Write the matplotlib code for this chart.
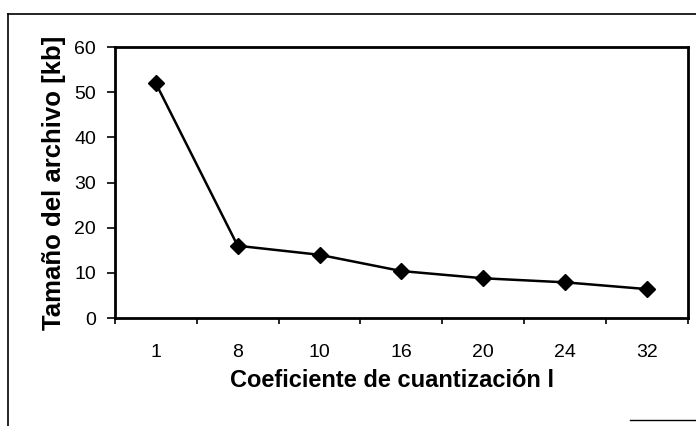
import matplotlib
matplotlib.use("Agg")
import matplotlib.pyplot as plt
from matplotlib.lines import Line2D

# data
coeficientes = ["1", "8", "10", "16", "20", "24", "32"]
tamano_kb = [52.0, 16.0, 14.0, 10.4, 8.8, 7.9, 6.4]

plt.rcParams['font.family'] = ['Liberation Sans', 'DejaVu Sans']

fig = plt.figure(figsize=(6.96, 4.26), dpi=100)
ax = fig.add_axes([0.165, 0.2535, 0.8235, 0.636])

x = list(range(len(coeficientes)))
ax.plot(x, tamano_kb, color='black', linewidth=1.8, marker='D', markersize=8)

ax.set_xlim(-0.5, len(coeficientes) - 0.5)
ax.set_ylim(0, 60)
ax.set_yticks(range(0, 61, 10))
ax.set_xticks(x)
ax.set_xticklabels(coeficientes)
ax.set_xticks([i - 0.5 for i in range(len(coeficientes) + 1)], minor=True)
ax.tick_params(axis='x', which='major', length=0, pad=19, labelsize=14)
ax.tick_params(axis='x', which='minor', length=4.5, width=1.2, direction='out')
ax.tick_params(axis='y', length=5.5, width=1.2, direction='out', labelsize=14, pad=8)

for s in ax.spines.values():
    s.set_linewidth(2.0)

ax.set_xlabel("Coeficiente de cuantización l", fontsize=17, fontweight='bold')
ax.xaxis.set_label_coords(0.483, -0.19)
ax.set_ylabel("Tamaño del archivo [kb]", fontsize=18.5, fontweight='bold', labelpad=6)

# outer frame of the scanned figure
fig.add_artist(Line2D([8/696, 1.0], [1 - 14/426, 1 - 14/426], color='black', linewidth=1.2))
fig.add_artist(Line2D([8/696, 8/696], [0.0, 1 - 14/426], color='black', linewidth=1.2))
fig.add_artist(Line2D([630/696, 1.0], [1 - 420/426, 1 - 420/426], color='black', linewidth=1.0))

fig.savefig("out.png", dpi=100)
